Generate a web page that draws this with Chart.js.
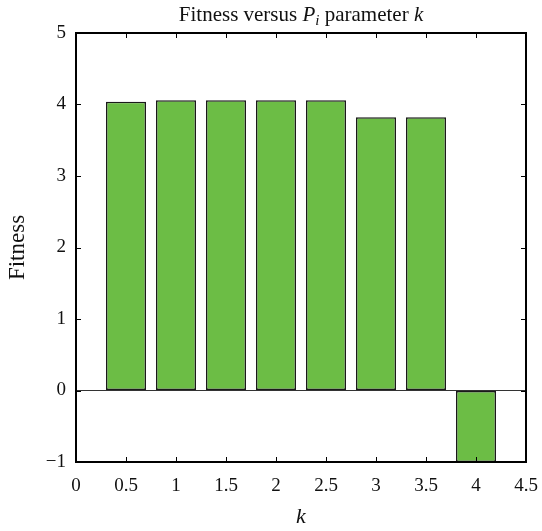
<!DOCTYPE html>
<html>
<head>
<meta charset="utf-8">
<script src="https://cdn.jsdelivr.net/npm/chart.js@4/dist/chart.umd.min.js"></script>
<style>
    html, body { margin: 0; padding: 0; background: #fff; }
    #wrap { width: 542px; height: 531px; }
</style>
</head>
<body>
<div id="wrap"><canvas id="fitnessChart"></canvas></div>
<script>
const kValues = [0.5, 1, 1.5, 2, 2.5, 3, 3.5, 4];
const fitnessValues = [4.04, 4.06, 4.06, 4.06, 4.06, 3.82, 3.82, -1];
const xTickValues = [0, 0.5, 1, 1.5, 2, 2.5, 3, 3.5, 4, 4.5];
const yTickValues = [-1, 0, 1, 2, 3, 4, 5];
const titleParts = [
    { text: 'Fitness versus ', italic: false },
    { text: 'P', italic: true },
    { text: 'i', italic: true, sub: true },
    { text: ' parameter ', italic: false },
    { text: 'k', italic: true }
];

const serif = '"Liberation Serif", "DejaVu Serif", serif';

// frame, inward ticks and the mixed-style title
const framePlugin = {
    id: 'frame',
    afterDatasetsDraw(chart) {
        const { ctx, chartArea: a, scales } = chart;
        ctx.save();
        ctx.strokeStyle = '#000';
        ctx.lineWidth = 1;
        const len = 5;
        scales.x.ticks.forEach(t => {
            const px = Math.round(scales.x.getPixelForValue(t.value)) + 0.5;
            if (px <= a.left + 1 || px >= a.right - 1) return;
            ctx.beginPath();
            ctx.moveTo(px, a.bottom); ctx.lineTo(px, a.bottom - len);
            ctx.moveTo(px, a.top); ctx.lineTo(px, a.top + len);
            ctx.stroke();
        });
        scales.y.ticks.forEach(t => {
            const py = Math.round(scales.y.getPixelForValue(t.value)) + 0.5;
            if (py <= a.top + 1 || py >= a.bottom - 1) return;
            ctx.beginPath();
            ctx.moveTo(a.left, py); ctx.lineTo(a.left + len, py);
            ctx.moveTo(a.right, py); ctx.lineTo(a.right - len, py);
            ctx.stroke();
        });
        ctx.lineWidth = 2;
        ctx.strokeRect(a.left, a.top, a.right - a.left, a.bottom - a.top);
        ctx.restore();
    },
    afterDraw(chart) {
        const { ctx, chartArea: a } = chart;
        ctx.save();
        ctx.fillStyle = '#111';
        ctx.textBaseline = 'alphabetic';
        const fontFor = p => (p.italic ? 'italic ' : '') + (p.sub ? '15px ' : '21px ') + serif;
        let total = 0;
        titleParts.forEach(p => { ctx.font = fontFor(p); total += ctx.measureText(p.text).width; });
        let x = (a.left + a.right) / 2 - total / 2;
        const baseY = 21;
        titleParts.forEach(p => {
            ctx.font = fontFor(p);
            ctx.fillText(p.text, x, p.sub ? baseY + 4 : baseY);
            x += ctx.measureText(p.text).width;
        });
        ctx.restore();
    }
};

const ctx = document.getElementById('fitnessChart').getContext('2d');
const fitnessChart = new Chart(ctx, {
    type: 'bar',
    data: {
        datasets: [{
            label: 'Fitness',
            data: kValues.map((k, i) => ({ x: k, y: fitnessValues[i] })),
            backgroundColor: '#6cbd45',
            borderColor: '#1a1a1a',
            borderWidth: 1.5,
            borderSkipped: false,
            barPercentage: 0.8,
            categoryPercentage: 1.0
        }]
    },
    options: {
        responsive: true,
        maintainAspectRatio: false,
        animation: false,
        layout: { padding: { top: 33, right: 16, bottom: 0, left: 0 } },
        plugins: {
            legend: { display: false },
            tooltip: { enabled: false }
        },
        scales: {
            x: {
                type: 'linear',
                offset: false,
                min: 0,
                max: 4.5,
                afterBuildTicks: s => { s.ticks = xTickValues.map(v => ({ value: v })); },
                afterFit: s => { s.height = 69; s.paddingLeft = 0; s.paddingRight = 0; },
                grid: { display: false, drawTicks: false },
                border: { display: false },
                ticks: {
                    color: '#111',
                    padding: 13,
                    maxRotation: 0,
                    font: { family: serif, size: 19 },
                    callback: v => String(v)
                },
                title: {
                    display: true,
                    text: 'k',
                    color: '#111',
                    padding: { top: 0, bottom: 1 },
                    font: { family: serif, size: 22, style: 'italic' }
                }
            },
            y: {
                min: -1,
                max: 5,
                afterBuildTicks: s => { s.ticks = yTickValues.map(v => ({ value: v })); },
                afterFit: s => { s.width = 76; s.paddingTop = 0; s.paddingBottom = 0; },
                grid: {
                    drawTicks: false,
                    color: c => (c.tick && c.tick.value === 0 ? '#333' : 'rgba(0,0,0,0)'),
                    lineWidth: 1
                },
                border: { display: false },
                ticks: {
                    color: '#111',
                    padding: 10,
                    font: { family: serif, size: 19 },
                    callback: v => String(v).replace('-', '\u2212')
                },
                title: {
                    display: true,
                    text: 'Fitness',
                    color: '#111',
                    padding: { top: 4, bottom: 0 },
                    font: { family: serif, size: 23 }
                }
            }
        }
    },
    plugins: [framePlugin]
});
</script>
</body>
</html>
